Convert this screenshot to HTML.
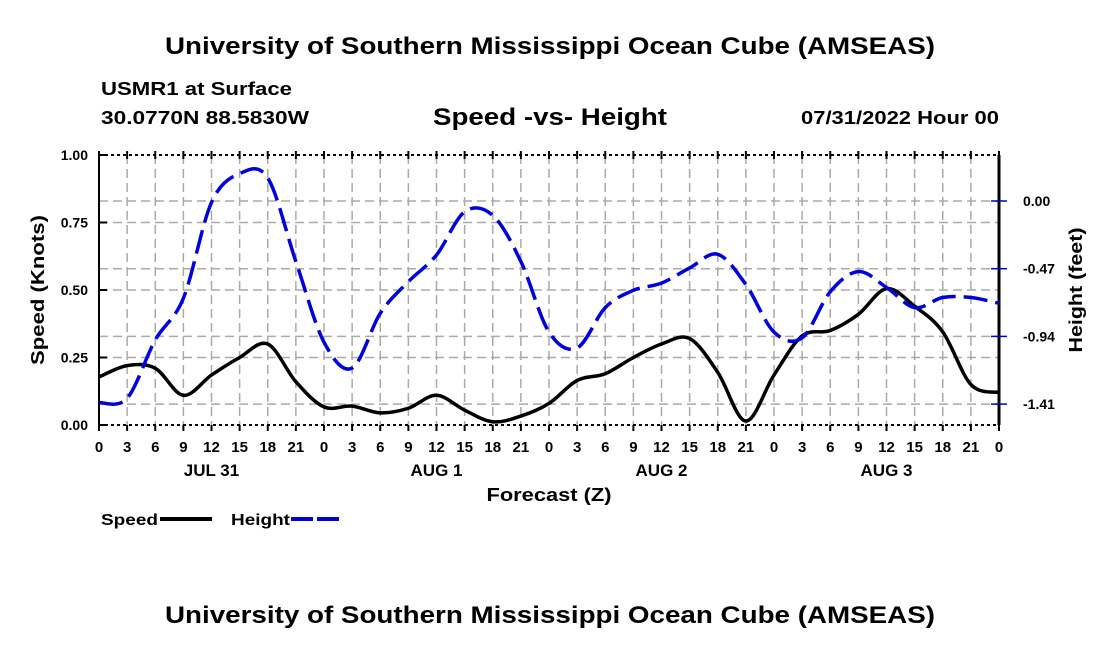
<!DOCTYPE html>
<html><head><meta charset="utf-8"><style>
body{margin:0;background:#fff}
svg text{font-family:"Liberation Sans",sans-serif;font-weight:bold;fill:#000}
</style></head><body>
<svg width="1100" height="650" xmlns="http://www.w3.org/2000/svg" id="chart">
<text x="550" y="54" font-size="24" text-anchor="middle" textLength="770" lengthAdjust="spacingAndGlyphs">University of Southern Mississippi Ocean Cube (AMSEAS)</text>
<text x="101" y="95" font-size="18" textLength="191" lengthAdjust="spacingAndGlyphs">USMR1 at Surface</text>
<text x="101" y="124" font-size="18" textLength="208" lengthAdjust="spacingAndGlyphs">30.0770N  88.5830W</text>
<text x="550" y="125" font-size="24" text-anchor="middle" textLength="234" lengthAdjust="spacingAndGlyphs">Speed -vs- Height</text>
<text x="999" y="124" font-size="18" text-anchor="end" textLength="198" lengthAdjust="spacingAndGlyphs">07/31/2022 Hour 00</text>
<g id="grid"></g>
<g id="axes"></g>
<g id="series"></g>
<text transform="translate(44,290) rotate(-90)" font-size="18" text-anchor="middle" textLength="150" lengthAdjust="spacingAndGlyphs">Speed (Knots)</text>
<text transform="translate(1082,290) rotate(-90)" font-size="18" text-anchor="middle" textLength="125" lengthAdjust="spacingAndGlyphs">Height (feet)</text>
<text x="549" y="501" font-size="18" text-anchor="middle" textLength="125" lengthAdjust="spacingAndGlyphs">Forecast (Z)</text>
<g>
<text x="101" y="525" font-size="16" textLength="57" lengthAdjust="spacingAndGlyphs">Speed</text>
<line x1="160" y1="519" x2="212" y2="519" stroke="#000" stroke-width="4"/>
<text x="231" y="525" font-size="16" textLength="59" lengthAdjust="spacingAndGlyphs">Height</text>
<line x1="291" y1="519" x2="343" y2="519" stroke="#0000dd" stroke-width="4" stroke-dasharray="22,4"/>
</g>
<text x="550" y="623" font-size="24" text-anchor="middle" textLength="770" lengthAdjust="spacingAndGlyphs">University of Southern Mississippi Ocean Cube (AMSEAS)</text>
</svg>
<script>
const hours = [0,3,6,9,12,15,18,21,24,27,30,33,36,39,42,45,48,51,54,57,60,63,66,69,72,75,78,81,84,87,90,93,96];
const speedValues = [0.178,0.22,0.21,0.11,0.185,0.25,0.30,0.16,0.067,0.07,0.045,0.062,0.11,0.055,0.012,0.033,0.08,0.165,0.19,0.25,0.30,0.32,0.195,0.015,0.185,0.33,0.35,0.41,0.505,0.44,0.345,0.15,0.12];
const heightValues = [-1.40,-1.37,-0.965,-0.675,-0.01,0.19,0.16,-0.42,-0.98,-1.16,-0.78,-0.56,-0.375,-0.075,-0.10,-0.42,-0.91,-1.02,-0.74,-0.62,-0.57,-0.465,-0.37,-0.58,-0.91,-0.95,-0.63,-0.49,-0.60,-0.74,-0.67,-0.67,-0.71];
const speedTicks = ["0.00","0.25","0.50","0.75","1.00"];
const heightTicks = ["0.00","-0.47","-0.94","-1.41"];
const dayLabels = ["JUL 31","AUG 1","AUG 2","AUG 3"];

const X0=99,X1=999,Y0=155,Y1=425;
const NS="http://www.w3.org/2000/svg";
const xs=h=>X0+(h/96)*(X1-X0);
const ys=v=>Y1-v*(Y1-Y0);
const yh=v=>201-(v/0.47)*67.7;
function mk(tag,attrs,parent){const e=document.createElementNS(NS,tag);for(const k in attrs)e.setAttribute(k,attrs[k]);parent.appendChild(e);return e;}
const grid=document.getElementById('grid'),axes=document.getElementById('axes'),series=document.getElementById('series');
hours.forEach(h=>{if(h>0&&h<96){const l=mk('line',{x1:xs(h),x2:xs(h),y1:Y0,y2:Y1,stroke:'#aaa','stroke-width':1.5,'stroke-dasharray':'9,5'},grid);

}});
speedTicks.forEach(t=>{const v=parseFloat(t);if(v>0&&v<1){const l=mk('line',{x1:X0,x2:X1,y1:ys(v),y2:ys(v),stroke:'#aaa','stroke-width':1.5,'stroke-dasharray':'9,5'},grid);

}});
heightTicks.forEach(t=>{const v=parseFloat(t);const l=mk('line',{x1:X0,x2:X1,y1:yh(v),y2:yh(v),stroke:'#aaa','stroke-width':1.5,'stroke-dasharray':'9,5'},grid);

});
mk('line',{x1:X0,x2:X0,y1:Y0,y2:Y1,stroke:'#000','stroke-width':2},axes);
mk('line',{x1:X1,x2:X1,y1:Y0,y2:Y1,stroke:'#000','stroke-width':3},axes);
mk('line',{x1:X0,x2:X1,y1:Y0,y2:Y0,stroke:'#000','stroke-width':2,'stroke-dasharray':'3,3'},axes);
mk('line',{x1:X0,x2:X1,y1:Y1,y2:Y1,stroke:'#000','stroke-width':2,'stroke-dasharray':'3,3'},axes);
hours.forEach(h=>{
  mk('line',{x1:xs(h),x2:xs(h),y1:Y1,y2:Y1+6,stroke:'#000','stroke-width':2},axes);
  mk('line',{x1:xs(h),x2:xs(h),y1:Y0-4,y2:Y0+4,stroke:'#000','stroke-width':2},axes);
  const t=mk('text',{x:xs(h),y:Y1+27,'font-size':15,'text-anchor':'middle'},axes);
  
  
  t.textContent=String(h%24);
});
dayLabels.forEach((d,i)=>{const t=mk('text',{x:xs(i*24+12),y:Y1+51,'font-size':17,'text-anchor':'middle'},axes);


t.textContent=d;});
speedTicks.forEach(s=>{const v=parseFloat(s);
  mk('line',{x1:X0,x2:X0+8,y1:ys(v),y2:ys(v),stroke:'#000','stroke-width':2},axes);
  const t=mk('text',{x:X0-11,y:ys(v)+5,'font-size':14,'text-anchor':'end'},axes);
  
  
  t.textContent=s;});
heightTicks.forEach(s=>{const v=parseFloat(s);
  mk('line',{x1:X1-8,x2:X1+8,y1:yh(v),y2:yh(v),stroke:'#0000cc','stroke-width':1.5},axes);
  const t=mk('text',{x:X1+24,y:yh(v)+5,'font-size':14,'text-anchor':'start'},axes);
  
  
  t.textContent=s;});
function smooth(pts){let d=`M${pts[0][0]},${pts[0][1]}`;for(let i=0;i<pts.length-1;i++){const p0=pts[Math.max(0,i-1)],p1=pts[i],p2=pts[i+1],p3=pts[Math.min(pts.length-1,i+2)];
d+=` C${p1[0]+(p2[0]-p0[0])/6},${p1[1]+(p2[1]-p0[1])/6} ${p2[0]-(p3[0]-p1[0])/6},${p2[1]-(p3[1]-p1[1])/6} ${p2[0]},${p2[1]}`;}return d;}
const sp=mk('path',{d:smooth(hours.map((h,i)=>[xs(h),ys(speedValues[i])])),fill:'none',stroke:'#000','stroke-width':3.5},series);


const hp=mk('path',{d:smooth(hours.map((h,i)=>[xs(h),yh(heightValues[i])])),fill:'none',stroke:'#0000dd','stroke-width':3.5,'stroke-dasharray':'24,8'},series);


</script>
</body></html>
